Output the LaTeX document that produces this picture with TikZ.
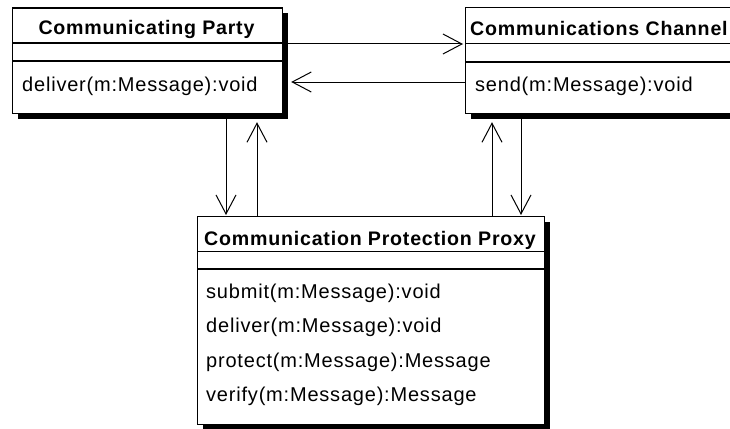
\documentclass[tikz,border=0pt]{standalone}
\usepackage{fontspec}
\setmainfont{Liberation Sans}[LetterSpace=4.0]
\usetikzlibrary{arrows.meta,shadows}

\tikzset{
  classbox/.style={draw=black, line width=1.2pt, fill=white, rectangle,
    inner sep=0pt, anchor=north west,
    drop shadow={shadow xshift=5pt, shadow yshift=-5pt, fill=black, opacity=1}},
  sepline/.style={line width=1.2pt},
  classname/.style={font=\fontsize{19.6}{23}\selectfont\bfseries, inner sep=0pt, anchor=base},
  member/.style={font=\fontsize{20}{23}\selectfont, inner sep=0pt, anchor=base west},
  link/.style={line width=1pt, -{Straight Barb[length=19pt, width=20pt, line width=1pt]}}
}

\begin{document}
\begin{tikzpicture}[x=1pt, y=-1pt]
  \useasboundingbox (0,0) rectangle (730,428);
  \clip (0,0) rectangle (730,428);
  \fill[white] (0,0) rectangle (730,428);

  % class boxes
  \node[classbox, minimum width=270pt, minimum height=105.5pt] (party) at (12,7.5) {};
  \node[classbox, minimum width=290pt, minimum height=106pt] (channel) at (465,7) {};
  \node[classbox, minimum width=347pt, minimum height=207.5pt] (proxy) at (197,216) {};

  % compartments
  \draw[sepline] (party.west |- 0,43) -- (party.east |- 0,43);
  \draw[sepline] (party.west |- 0,61) -- (party.east |- 0,61);
  \draw[sepline] (channel.west |- 0,43.5) -- (channel.east |- 0,43.5);
  \draw[sepline] (channel.west |- 0,62) -- (channel.east |- 0,62);
  \draw[sepline] (proxy.west |- 0,251.5) -- (proxy.east |- 0,251.5);
  \draw[sepline] (proxy.west |- 0,269) -- (proxy.east |- 0,269);

  % names
  \node[classname] (partyname) at (146.5,35) {Communicating Party};
  \node[classname, anchor=base west] (channelname) at (470,35.5) {Communications Channel};
  \node[classname] (proxyname) at (370,245) {Communication Protection Proxy};

  % operations
  \node[member] (partyop) at (22,91.5) {deliver(m:Message):void};
  \node[member] (channelop) at (475,91.5) {send(m:Message):void};
  \node[member] (proxyop1) at (206,298.3) {submit(m:Message):void};
  \node[member] (proxyop2) at (206,332.8) {deliver(m:Message):void};
  \node[member] (proxyop3) at (206,367.3) {protect(m:Message):Message};
  \node[member] (proxyop4) at (206,401.8) {verify(m:Message):Message};

  % associations
  \draw[link] (party.east |- 0,44) -- ([xshift=-2pt]channel.west |- 0,44);
  \draw[link] (channel.west |- 0,82) -- ([xshift=8pt]party.east |- 0,82);
  \draw[link] (party.south -| 226,0) -- ([yshift=1pt]proxy.north -| 226,0);
  \draw[link] (proxy.north -| 257,0) -- ([yshift=-8pt]party.south -| 257,0);
  \draw[link] (proxy.north -| 492,0) -- ([yshift=-8pt]channel.south -| 492,0);
  \draw[link] (channel.south -| 521,0) -- ([yshift=1pt]proxy.north -| 521,0);
\end{tikzpicture}
\end{document}
